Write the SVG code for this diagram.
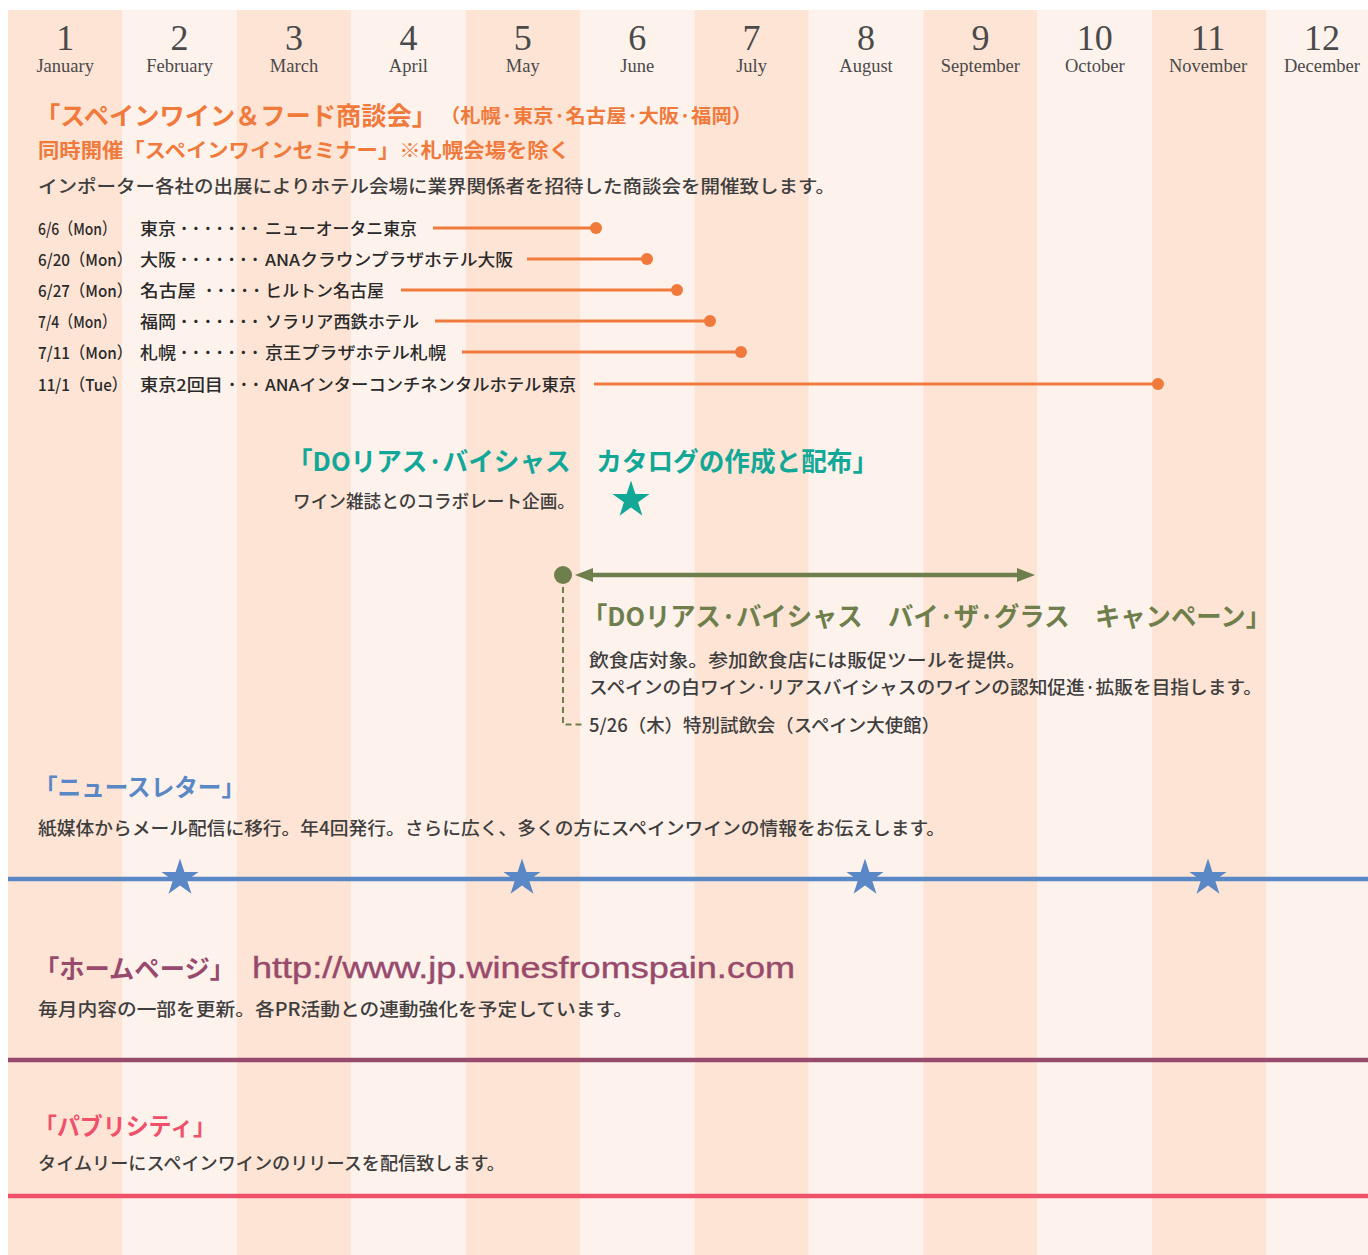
<svg xmlns="http://www.w3.org/2000/svg" width="1368" height="1255" viewBox="0 0 1368 1255">
<style>
.bgD{fill:#FDE4D5}
.bgL{fill:#FEF2EC}
.num{font-family:"Liberation Serif",serif;font-size:36px;fill:#4a4a4a;text-anchor:middle}
.mon{font-family:"Liberation Serif",serif;font-size:18.5px;fill:#4a4a4a;text-anchor:middle}
.jp{font-family:"Noto Sans CJK JP",sans-serif}
.b{font-weight:bold}
.org{fill:#F07A3C}
.teal{fill:#12A898}
.grn{fill:#6F7F4C}
.blu{fill:#5A87C5}
.mau{fill:#984A6D}
.red{fill:#EE5169}
.txt{fill:#3e3e3e;font-weight:500}
.row{font-family:"Noto Sans CJK JP",sans-serif;font-size:16.5px;fill:#2a2a2a;font-weight:500}
.dots{font-family:"Noto Sans CJK JP",sans-serif;font-size:16.5px;fill:#2a2a2a;font-weight:bold;letter-spacing:3.6px}
.evl{stroke:#F07A3C;stroke-width:3;fill:none}
.evd{fill:#F07A3C}
.bar{stroke-width:4.5;fill:none}
</style>
<defs>
<path id="star" d="M0,-19.5 L4.38,-6.03 L18.55,-6.03 L7.08,2.3 L11.46,15.78 L0,7.45 L-11.46,15.78 L-7.08,2.3 L-18.55,-6.03 L-4.38,-6.03 Z"/>
<marker id="ah" viewBox="0 0 18 14" refX="1" refY="7" markerWidth="18" markerHeight="14" markerUnits="userSpaceOnUse" orient="auto-start-reverse">
<path d="M0,0 L18,7 L0,14 Z" fill="#6F7F4C"/>
</marker>
</defs>

<g id="background">
<rect class="bgD" x="8" y="10" width="114.4" height="1245"/>
<rect class="bgL" x="122.4" y="10" width="114.4" height="1245"/>
<rect class="bgD" x="236.8" y="10" width="114.4" height="1245"/>
<rect class="bgL" x="351.2" y="10" width="114.4" height="1245"/>
<rect class="bgD" x="465.6" y="10" width="114.4" height="1245"/>
<rect class="bgL" x="580" y="10" width="114.4" height="1245"/>
<rect class="bgD" x="694.4" y="10" width="114.4" height="1245"/>
<rect class="bgL" x="808.8" y="10" width="114.4" height="1245"/>
<rect class="bgD" x="923.2" y="10" width="114.4" height="1245"/>
<rect class="bgL" x="1037.6" y="10" width="114.4" height="1245"/>
<rect class="bgD" x="1152" y="10" width="114.4" height="1245"/>
<rect class="bgL" x="1266.4" y="10" width="114.4" height="1245"/>
</g>

<g id="months">
<text class="num" x="65.2" y="50">1</text><text class="mon" x="65.2" y="72">January</text>
<text class="num" x="179.6" y="50">2</text><text class="mon" x="179.6" y="72">February</text>
<text class="num" x="294" y="50">3</text><text class="mon" x="294" y="72">March</text>
<text class="num" x="408.4" y="50">4</text><text class="mon" x="408.4" y="72">April</text>
<text class="num" x="522.8" y="50">5</text><text class="mon" x="522.8" y="72">May</text>
<text class="num" x="637.2" y="50">6</text><text class="mon" x="637.2" y="72">June</text>
<text class="num" x="751.6" y="50">7</text><text class="mon" x="751.6" y="72">July</text>
<text class="num" x="866" y="50">8</text><text class="mon" x="866" y="72">August</text>
<text class="num" x="980.4" y="50">9</text><text class="mon" x="980.4" y="72">September</text>
<text class="num" x="1094.8" y="50">10</text><text class="mon" x="1094.8" y="72">October</text>
<text class="num" x="1208" y="50">11</text><text class="mon" x="1208" y="72">November</text>
<text class="num" x="1322" y="50">12</text><text class="mon" x="1322" y="72">December</text>
</g>

<g id="trade-show">
<text class="jp b org" x="35" y="124.5" font-size="25" textLength="402" lengthAdjust="spacingAndGlyphs">「スペインワイン＆フード商談会」</text>
<text class="jp b org" x="440" y="122.5" font-size="19" textLength="312" lengthAdjust="spacingAndGlyphs">（札幌·東京·名古屋·大阪·福岡）</text>
<text class="jp b org" x="38" y="157.5" font-size="20" textLength="532" lengthAdjust="spacingAndGlyphs">同時開催「スペインワインセミナー」※札幌会場を除く</text>
<text class="jp txt" x="38" y="193" font-size="18" textLength="797" lengthAdjust="spacingAndGlyphs">インポーター各社の出展によりホテル会場に業界関係者を招待した商談会を開催致します。</text>
</g>

<g id="event-tokyo">
<text class="row" x="38" y="234.5" textLength="78" lengthAdjust="spacingAndGlyphs">6/6（Mon）</text>
<text class="row" x="140" y="234.5" textLength="36" lengthAdjust="spacingAndGlyphs">東京</text>
<text class="dots" x="180" y="234.5">･･･････</text>
<text class="row" x="265" y="234.5" textLength="152" lengthAdjust="spacingAndGlyphs">ニューオータニ東京</text>
</g>
<g id="event-osaka">
<text class="row" x="38" y="265.5" textLength="94" lengthAdjust="spacingAndGlyphs">6/20（Mon）</text>
<text class="row" x="140" y="265.5" textLength="36" lengthAdjust="spacingAndGlyphs">大阪</text>
<text class="dots" x="180" y="265.5">･･･････</text>
<text class="row" x="265" y="265.5" textLength="248" lengthAdjust="spacingAndGlyphs">ANAクラウンプラザホテル大阪</text>
</g>
<g id="event-nagoya">
<text class="row" x="38" y="296.5" textLength="94" lengthAdjust="spacingAndGlyphs">6/27（Mon）</text>
<text class="row" x="140" y="296.5" textLength="56" lengthAdjust="spacingAndGlyphs">名古屋</text>
<text class="dots" x="205" y="296.5">･････</text>
<text class="row" x="265" y="296.5" textLength="119" lengthAdjust="spacingAndGlyphs">ヒルトン名古屋</text>
</g>
<g id="event-fukuoka">
<text class="row" x="38" y="327.5" textLength="78" lengthAdjust="spacingAndGlyphs">7/4（Mon）</text>
<text class="row" x="140" y="327.5" textLength="36" lengthAdjust="spacingAndGlyphs">福岡</text>
<text class="dots" x="180" y="327.5">･･･････</text>
<text class="row" x="265" y="327.5" textLength="154" lengthAdjust="spacingAndGlyphs">ソラリア西鉄ホテル</text>
</g>
<g id="event-sapporo">
<text class="row" x="38" y="358.5" textLength="94" lengthAdjust="spacingAndGlyphs">7/11（Mon）</text>
<text class="row" x="140" y="358.5" textLength="36" lengthAdjust="spacingAndGlyphs">札幌</text>
<text class="dots" x="180" y="358.5">･･･････</text>
<text class="row" x="265" y="358.5" textLength="181" lengthAdjust="spacingAndGlyphs">京王プラザホテル札幌</text>
</g>
<g id="event-tokyo2">
<text class="row" x="38" y="390.5" textLength="89" lengthAdjust="spacingAndGlyphs">11/1（Tue）</text>
<text class="row" x="140" y="390.5" textLength="83" lengthAdjust="spacingAndGlyphs">東京2回目</text>
<text class="dots" x="228" y="390.5">･･･</text>
<text class="row" x="265" y="390.5" textLength="311" lengthAdjust="spacingAndGlyphs">ANAインターコンチネンタルホテル東京</text>
</g>

<g id="catalog">
<text class="jp b teal" x="287" y="471" font-size="26" textLength="591" lengthAdjust="spacingAndGlyphs">「DOリアス·バイシャス　カタログの作成と配布」</text>
<text class="jp txt" x="293" y="508" font-size="18" textLength="282" lengthAdjust="spacingAndGlyphs">ワイン雑誌とのコラボレート企画。</text>
<use href="#star" x="631" y="500" fill="#12A898"/>
</g>

<g id="campaign">
<circle cx="563" cy="575" r="9" fill="#6F7F4C"/>
<text class="jp b grn" x="582" y="626" font-size="26" textLength="689" lengthAdjust="spacingAndGlyphs">「DOリアス·バイシャス　バイ·ザ·グラス　キャンペーン」</text>
<text class="jp txt" x="589" y="667" font-size="18" textLength="437" lengthAdjust="spacingAndGlyphs">飲食店対象。参加飲食店には販促ツールを提供。</text>
<text class="jp txt" x="589" y="694" font-size="18" textLength="673" lengthAdjust="spacingAndGlyphs">スペインの白ワイン·リアスバイシャスのワインの認知促進·拡販を目指します。</text>
<text class="jp txt" x="589" y="732" font-size="18" textLength="351" lengthAdjust="spacingAndGlyphs">5/26（木）特別試飲会（スペイン大使館）</text>
</g>

<g id="newsletter">
<text class="jp b blu" x="34" y="796" font-size="24" textLength="211" lengthAdjust="spacingAndGlyphs">「ニュースレター」</text>
<text class="jp txt" x="38" y="835" font-size="18" textLength="907" lengthAdjust="spacingAndGlyphs">紙媒体からメール配信に移行。年4回発行。さらに広く、多くの方にスペインワインの情報をお伝えします。</text>
<line class="bar" x1="8" y1="879" x2="1368" y2="879" stroke="#5A87C5"/>
<use href="#star" x="180" y="878" fill="#5A87C5"/>
<use href="#star" x="522" y="878" fill="#5A87C5"/>
<use href="#star" x="865" y="878" fill="#5A87C5"/>
<use href="#star" x="1208" y="878" fill="#5A87C5"/>
</g>

<g id="homepage">
<text class="jp b mau" x="34" y="977.5" font-size="25" textLength="201" lengthAdjust="spacingAndGlyphs">「ホームページ」</text>
<text class="mau" x="252" y="978" font-family="Liberation Sans, Arial, sans-serif" font-size="30" textLength="543" lengthAdjust="spacingAndGlyphs" stroke="#984A6D" stroke-width="0.4">http://www.jp.winesfromspain.com</text>
<text class="jp txt" x="38" y="1016" font-size="18" textLength="595" lengthAdjust="spacingAndGlyphs">毎月内容の一部を更新。各PR活動との連動強化を予定しています。</text>
<line class="bar" x1="8" y1="1060" x2="1368" y2="1060" stroke="#984A6D"/>
</g>

<g id="publicity">
<text class="jp b red" x="34" y="1135" font-size="24" textLength="182" lengthAdjust="spacingAndGlyphs">「パブリシティ」</text>
<text class="jp txt" x="38" y="1170" font-size="18" textLength="467" lengthAdjust="spacingAndGlyphs">タイムリーにスペインワインのリリースを配信致します。</text>
<line class="bar" x1="8" y1="1196" x2="1368" y2="1196" stroke="#EE5169"/>
</g>

<g id="connectors">
<line class="evl" x1="433" y1="228" x2="596" y2="228"/><circle class="evd" cx="596" cy="228" r="6"/>
<line class="evl" x1="527" y1="259" x2="647" y2="259"/><circle class="evd" cx="647" cy="259" r="6"/>
<line class="evl" x1="401" y1="290" x2="677" y2="290"/><circle class="evd" cx="677" cy="290" r="6"/>
<line class="evl" x1="435" y1="321" x2="710" y2="321"/><circle class="evd" cx="710" cy="321" r="6"/>
<line class="evl" x1="462" y1="352" x2="741" y2="352"/><circle class="evd" cx="741" cy="352" r="6"/>
<line class="evl" x1="594" y1="384" x2="1158" y2="384"/><circle class="evd" cx="1158" cy="384" r="6"/>
<line x1="592" y1="575" x2="1018" y2="575" stroke="#6F7F4C" stroke-width="4.5" marker-start="url(#ah)" marker-end="url(#ah)"/>
<path d="M563,587 V724.5 H582" fill="none" stroke="#6F7F4C" stroke-width="2" stroke-dasharray="6,4"/>
</g>
</svg>
